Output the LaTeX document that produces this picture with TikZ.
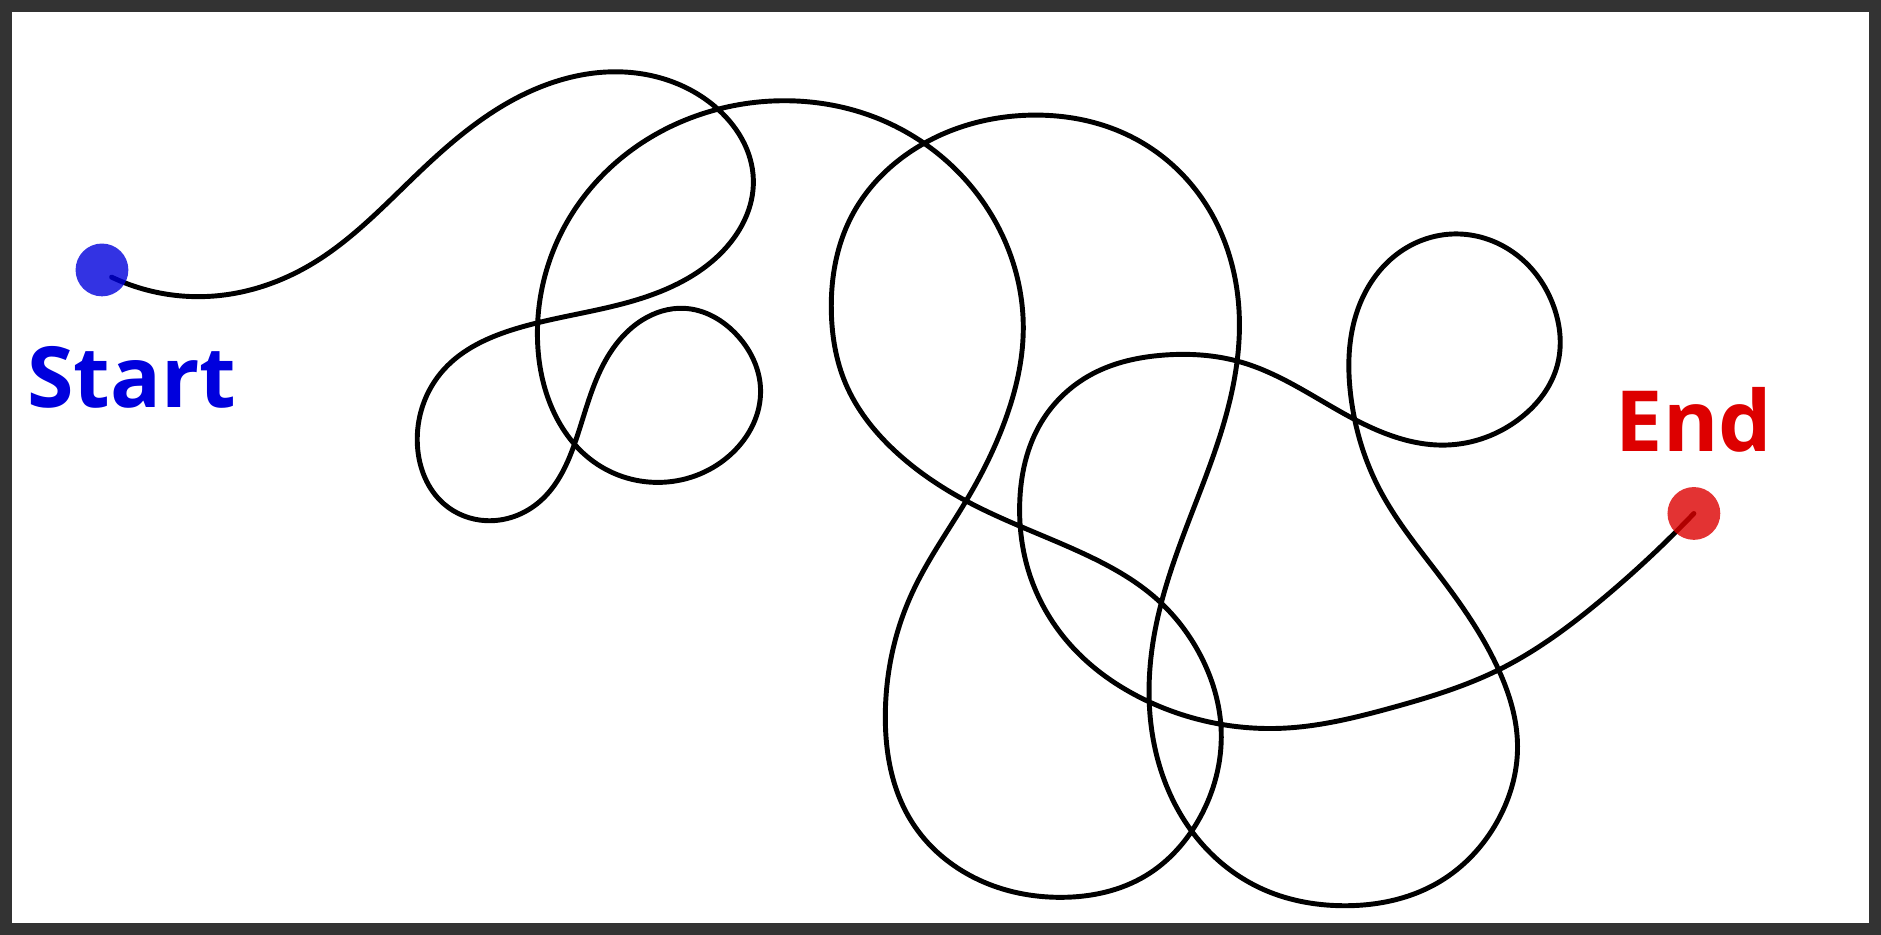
\documentclass[tikz,border=0pt]{standalone}
\usepackage{fontspec}
\setmainfont{Open Sans}
\usepackage{tikz}
\usetikzlibrary{hobby}
\definecolor{framegray}{HTML}{333333}
\definecolor{startblue}{HTML}{0000DD}
\definecolor{endred}{HTML}{DD0000}
\begin{document}
\begin{tikzpicture}[x=0.012cm, y=-0.012cm,
  wire/.style={line width=1.4pt, line cap=round, line join=round},
  dotmark/.style={circle, inner sep=0pt, minimum size=0.528cm, fill opacity=0.8},
  tag/.style={font=\fontsize{24}{28}\selectfont\bfseries, anchor=base}]

\fill[framegray] (0,0) rectangle (1568,779);
\fill[white] (10,10) rectangle (1558,769);

\coordinate (s) at (93,231);
\coordinate (e) at (1412,428);

% the tangled path from start to end
\draw[wire] (s) to[curve through={
  (175,247) (260,220) (350,143) (430,82) (520,60) (595,88)
  (628,150) (600,212) (520,253) (430,274) (370,308) (348,372)
  (370,420) (405,434) (450,418) (480,367) (505,300) (535,267)
  (570,257) (615,280) (634,325) (610,378) (553,402) (495,385)
  (458,335) (448,280) (465,200) (520,130) (585,95) (658,84)
  (730,98) (790,135) (835,195) (853,275) (838,350) (808,413)
  (760,495) (738,595) (760,685) (815,733) (885,748) (955,730)
  (1000,682) (1018,610) (1000,545) (965,500) (900,460) (810,420)
  (745,375) (705,320) (693,260) (710,180) (773,118) (858,96)
  (945,115) (1005,170) (1033,262) (1018,360) (985,450) (962,530)
  (962,620) (995,695) (1050,740) (1120,755) (1200,735) (1248,685)
  (1265,622) (1250,560) (1200,480) (1150,408) (1126,330) (1135,250)
  (1170,208) (1215,195) (1265,213) (1295,255) (1298,305) (1268,348)
  (1205,371) (1140,355) (1035,302) (970,296) (910,312) (868,352)
  (850,420) (858,478) (890,535) (960,586) (1070,607) (1160,590)
  (1250,558) (1335,500)}] (e);

\node[dotmark, fill=startblue] (startdot) at (85,225) {};
\node[dotmark, fill=endred] (enddot) at (e) {};
\node[tag, text=startblue] (startlabel) at (110,340) {Start};
\node[tag, text=endred] (endlabel) at (1412,376) {End};
\end{tikzpicture}
\end{document}
